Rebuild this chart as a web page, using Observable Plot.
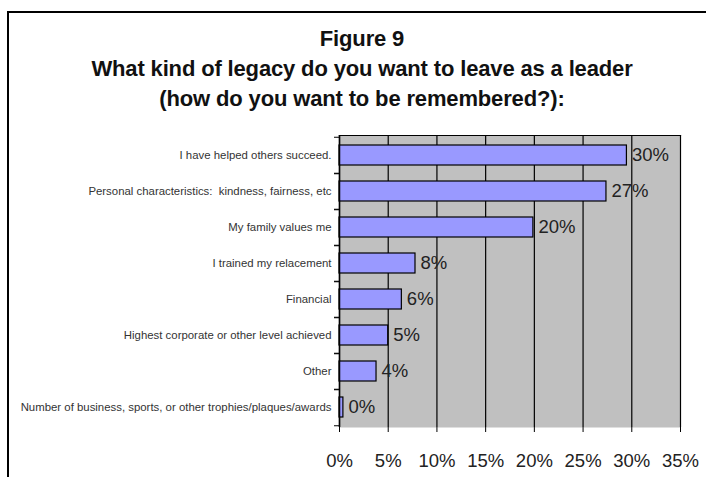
<!DOCTYPE html>
<html>
<head>
<meta charset="utf-8">
<script src="https://cdn.jsdelivr.net/npm/d3@7"></script>
<script src="https://cdn.jsdelivr.net/npm/@observablehq/plot@0.6"></script>
<style>
  html, body { margin: 0; padding: 0; background: #fff; }
  #page { position: relative; width: 706px; height: 477px; overflow: hidden; font-family: Arial, "Liberation Sans", sans-serif; }
  #frame { position: absolute; left: 7px; top: 11px; width: 760px; height: 520px; border-top: 2px solid #000; border-left: 2px solid #000; }
  #title { position: absolute; left: 9px; top: 24px; width: 706px; text-align: center; font-weight: bold; font-size: 22px; line-height: 30px; color: #111; letter-spacing: -0.15px; }
  #chart { position: absolute; left: 0; top: 120px; }
</style>
</head>
<body>
<div id="page">
  <div id="frame"></div>
  <div id="title">Figure 9<br>What kind of legacy do you want to leave as a leader<br>(how do you want to be remembered?):</div>
  <div id="chart"></div>
</div>
<script>
const categories = [
  "I have helped others succeed.",
  "Personal characteristics:  kindness, fairness, etc",
  "My family values me",
  "I trained my relacement",
  "Financial",
  "Highest corporate or other level achieved",
  "Other",
  "Number of business, sports, or other trophies/plaques/awards"
];
const values = [29.5, 27.4, 19.9, 7.8, 6.4, 5.0, 3.8, 0.4];
const valueLabels = ["30%", "27%", "20%", "8%", "6%", "5%", "4%", "0%"];
const xTicks = [0, 5, 10, 15, 20, 25, 30, 35];

const data = categories.map((c, i) => ({category: c, value: values[i], label: valueLabels[i]}));

const W = 706, H = 357;
const mTop = 15, mBottom = 50, mLeft = 339, mRight = 26;
const step = (H - mTop - mBottom) / categories.length;

const chart = Plot.plot({
  width: W,
  height: H,
  marginTop: mTop,
  marginBottom: mBottom,
  marginLeft: mLeft,
  marginRight: mRight,
  style: {fontFamily: "Arial, 'Liberation Sans', sans-serif", background: "transparent", overflow: "visible"},
  x: {domain: [0, 35]},
  y: {domain: categories, paddingInner: 0.45, paddingOuter: 0.225},
  marks: [
    Plot.frame({fill: "#c0c0c0", stroke: null}),
    Plot.ruleX(xTicks, {stroke: "#000", strokeWidth: 1.2}),
    Plot.barX(data, {x: "value", y: "category", fill: "#9999ff", stroke: "#000", strokeWidth: 1.2}),
    Plot.text(data, {x: "value", y: "category", text: "label", textAnchor: "start", dx: 5, fontSize: 18.5, fill: "#222"}),
    Plot.frame({anchor: "top", stroke: "#000", strokeWidth: 1.2}),
    Plot.axisY({tickSize: 0, tickPadding: 8, fontSize: 11.4, color: "#333", label: null}),
    Plot.axisY({tickSize: 5, text: null, dy: step / 2, stroke: "#000", label: null}),
    Plot.axisY({tickSize: 5, text: null, dy: -step / 2, stroke: "#000", label: null}),
    Plot.ruleX([0], {stroke: "#000", strokeWidth: 1.5}),
    Plot.ruleY([0], {stroke: "#000", strokeWidth: 1.5, frameAnchor: "bottom", x1: 0, x2: 35}),
    Plot.axisX({ticks: xTicks, tickFormat: d => d + "%", tickSize: 5, tickPadding: 21, fontSize: 18.5, color: "#222", stroke: "#000", label: null})
  ]
});
document.getElementById("chart").appendChild(chart);
</script>
</body>
</html>
